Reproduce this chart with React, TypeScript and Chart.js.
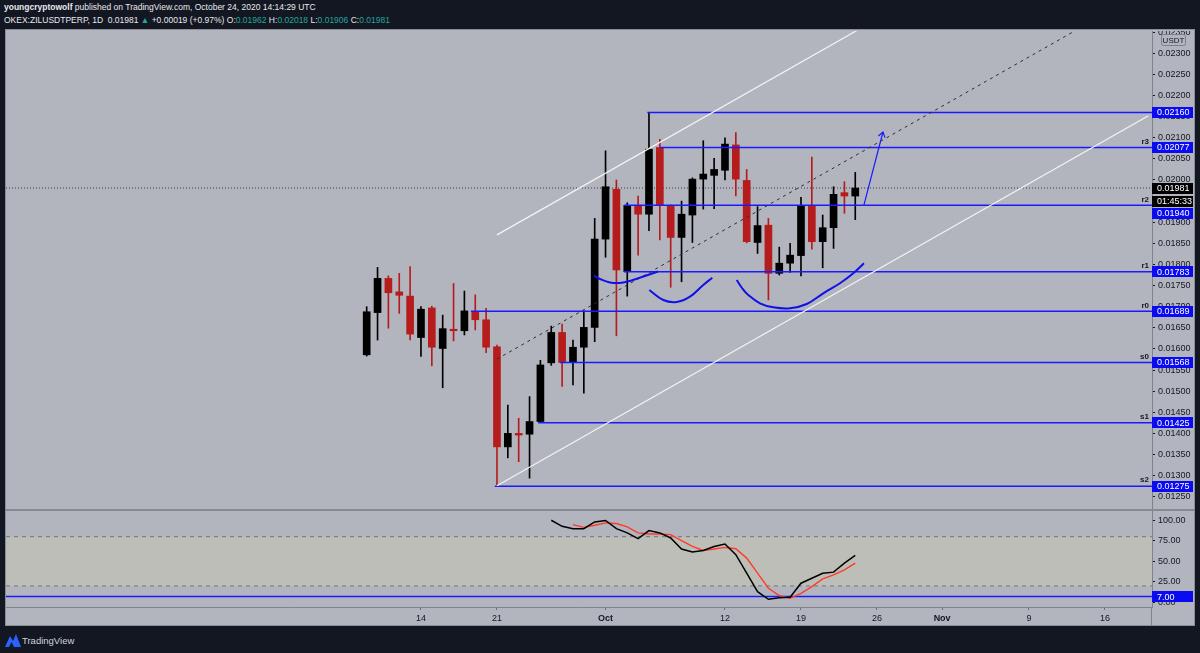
import React, { useEffect, useRef } from "react";
import { Chart, registerables } from "chart.js";
Chart.register(...registerables);

// ---- data (day index: 0 = 14 Sep 2020) ----
const candleDays = [-5, -4, -3, -2, -1, 0, 1, 2, 3, 4, 5, 6, 7, 8, 9, 10, 11, 12, 13, 14, 15, 16, 17, 18, 19, 20, 21, 22, 23, 24, 25, 26, 27, 28, 29, 30, 31, 32, 33, 34, 35, 36, 37, 38, 39, 40];
const openPrices = [0.01586, 0.01686, 0.01767, 0.01735, 0.01725, 0.01627, 0.01697, 0.01601, 0.01646, 0.01643, 0.01688, 0.01669, 0.01605, 0.01368, 0.014, 0.01398, 0.01428, 0.01567, 0.01639, 0.01569, 0.01604, 0.01651, 0.0186, 0.01978, 0.01783, 0.0194, 0.01919, 0.02077, 0.0194, 0.01864, 0.01917, 0.02002, 0.02011, 0.02023, 0.02083, 0.01999, 0.01852, 0.01893, 0.01779, 0.01803, 0.01821, 0.01939, 0.01854, 0.01887, 0.0197, 0.01962];
const highPrices = [0.017, 0.01793, 0.01773, 0.01779, 0.01795, 0.017, 0.01701, 0.0168, 0.01755, 0.01737, 0.01728, 0.01696, 0.01609, 0.01467, 0.01436, 0.01487, 0.01573, 0.01654, 0.01659, 0.01621, 0.0169, 0.01909, 0.02069, 0.02, 0.01946, 0.01962, 0.0216, 0.02096, 0.01941, 0.0195, 0.02005, 0.02093, 0.02051, 0.021, 0.02112, 0.02025, 0.01937, 0.01909, 0.01841, 0.0185, 0.01959, 0.02054, 0.01917, 0.01984, 0.01996, 0.02018];
const lowPrices = [0.01583, 0.01621, 0.01649, 0.01684, 0.01621, 0.01582, 0.0156, 0.01508, 0.01619, 0.01633, 0.01645, 0.01591, 0.01278, 0.01342, 0.01333, 0.01294, 0.01426, 0.01561, 0.01511, 0.01515, 0.01495, 0.01617, 0.01817, 0.01631, 0.01725, 0.01822, 0.0188, 0.01858, 0.01746, 0.01759, 0.01852, 0.01931, 0.01932, 0.02, 0.01962, 0.01851, 0.01826, 0.01716, 0.01775, 0.01781, 0.01773, 0.01836, 0.01792, 0.01838, 0.01921, 0.01906];
const closePrices = [0.01688, 0.01767, 0.01733, 0.01727, 0.01635, 0.01694, 0.01604, 0.01648, 0.01643, 0.0169, 0.01669, 0.01604, 0.01368, 0.014, 0.01396, 0.01428, 0.01562, 0.01639, 0.01568, 0.01604, 0.01651, 0.0186, 0.01984, 0.01787, 0.0194, 0.01919, 0.02073, 0.01941, 0.01864, 0.01919, 0.02002, 0.02014, 0.02025, 0.02085, 0.02002, 0.01854, 0.01892, 0.01779, 0.01803, 0.01822, 0.01939, 0.01854, 0.01887, 0.01966, 0.01962, 0.01981];

const levelValues = [0.0216, 0.02077, 0.0194, 0.01783, 0.01689, 0.01568, 0.01425, 0.01275];
const levelNames = ["", "r3", "r2", "r1", "r0", "s0", "s1", "s2"];
const levelStartDays = [20.85, 22, 18.7, 18.7, 4.6, 12.8, 10.8, 6.8];

const channelUpper = [{ x: 7, y: 0.0187 }, { x: 67, y: 0.02746 }];
const channelMiddle = [{ x: 7, y: 0.01576 }, { x: 67, y: 0.02452 }];
const channelLower = [{ x: 7, y: 0.01276 }, { x: 67, y: 0.02152 }];

const arcLeft = [{ x: 15.93, y: 0.017734 }, { x: 16.49, y: 0.017655 }, { x: 17.41, y: 0.017573 }, { x: 18.33, y: 0.017561 }, { x: 19.25, y: 0.017608 }, { x: 20.63, y: 0.017727 }, { x: 21.83, y: 0.017833 }];
const arcMiddle = [{ x: 21.03, y: 0.017395 }, { x: 22.32, y: 0.017158 }, { x: 23.55, y: 0.017111 }, { x: 24.78, y: 0.017236 }, { x: 26.0, y: 0.017513 }, { x: 26.83, y: 0.017686 }];
const arcRight = [{ x: 29.08, y: 0.017632 }, { x: 29.57, y: 0.017442 }, { x: 30.15, y: 0.017277 }, { x: 31.22, y: 0.01708 }, { x: 32.45, y: 0.016985 }, { x: 33.99, y: 0.016962 }, { x: 35.53, y: 0.017064 }, { x: 37.05, y: 0.017317 }, { x: 38.59, y: 0.017554 }, { x: 39.82, y: 0.01779 }, { x: 40.8, y: 0.018027 }];
const arrowPath = [{ x: 40.8, y: 0.01941 }, { x: 42.55, y: 0.021136 }];

const kDays = [12, 13, 14, 15, 16, 17, 18, 19, 20, 21, 22, 23, 24, 25, 26, 27, 28, 29, 30, 31, 32, 33, 34, 35, 36, 37, 38, 39, 40];
const kValues = [100, 92.6, 89.8, 89.8, 98.0, 99.8, 89.8, 84.6, 77.6, 87.4, 84.6, 78.4, 65.0, 61.3, 63.2, 68.1, 71.1, 58.0, 35.5, 13.0, 3.7, 5.6, 6.1, 23.3, 29.4, 35.5, 36.8, 47.8, 57.1];
const dDays = [14, 15, 16, 17, 18, 19, 20, 21, 22, 23, 24, 25, 26, 27, 28, 29, 30, 31, 32, 33, 34, 35, 36, 37, 38, 39, 40];
const dValues = [94.7, 91.4, 93.9, 96.8, 96.0, 91.9, 84.6, 83.3, 83.3, 82.5, 75.1, 68.1, 63.2, 65.0, 66.9, 65.3, 53.9, 35.5, 17.2, 8.1, 4.9, 11.0, 19.1, 28.6, 33.5, 39.6, 47.8];

const priceTicks = [0.0125, 0.013, 0.0135, 0.014, 0.0145, 0.015, 0.0155, 0.016, 0.0165, 0.017, 0.0175, 0.018, 0.0185, 0.019, 0.0195, 0.02, 0.0205, 0.021, 0.0215, 0.022, 0.0225, 0.023, 0.0235];
const stochTicks = [0, 25, 50, 75, 100];
const timeTickDays = [0, 7, 17, 28, 35, 42, 48, 56, 63];
const timeTickLabels = ["14", "21", "Oct", "12", "19", "26", "Nov", "9", "16"];
const boldTimeLabels = ["Oct", "Nov"];

const stochUpper = 80;
const stochLower = 20;
const stochLevel = 7;
const countdownText = "01:45:33";

// ---- view ----
const X_MIN = -38.22;
const X_MAX = 67.33;
const P_MIN = 0.012209;
const P_MAX = 0.023528;
const S_MIN = -5.7;
const S_MAX = 111.3;

const FONT = "'Liberation Sans', Arial, sans-serif";
const AXIS_TEXT = "#131722";
const UP = "#000000";
const DOWN = "#b71c1c";
const BLUE = "#1a1aff";
const BOX_BLUE = "#0b0bf2";

function fixRightAxis(scale: any) {
  scale.width = 43;
  scale.paddingTop = 0;
  scale.paddingBottom = 0;
}

export default function App() {
  const mainRef = useRef<HTMLCanvasElement>(null);
  const stochRef = useRef<HTMLCanvasElement>(null);

  useEffect(() => {
    document.body.style.margin = "0";
    Chart.defaults.font.family = FONT;

    const colors = candleDays.map((_, i) => (closePrices[i] >= openPrices[i] ? UP : DOWN));
    const bodyData = candleDays.map((d, i) => ({ x: d, y: [Math.min(openPrices[i], closePrices[i]), Math.max(openPrices[i], closePrices[i])] }));
    const wickData = candleDays.map((d, i) => ({ x: d, y: [lowPrices[i], highPrices[i]] }));
    const lastClose = closePrices[closePrices.length - 1];

    const levelSets = levelValues.map((v, i) => ({
      type: "line",
      data: [{ x: levelStartDays[i], y: v }, { x: X_MAX, y: v }],
      borderColor: BLUE,
      borderWidth: 1.5,
      pointRadius: 0,
      order: 3,
    }));

    const curve = (pts: any[]) => ({
      type: "line",
      data: pts,
      borderColor: "#1010e8",
      borderWidth: 2,
      pointRadius: 0,
      tension: 0.4,
      order: 1,
    });

    const labelPlugin = {
      id: "tvLabels",
      afterDraw(chart: any) {
        const ctx = chart.ctx;
        const ys = chart.scales.y;
        const xs = chart.scales.x;
        const right = chart.chartArea.right;
        const boxH = 11;
        const boxW = 41;
        ctx.save();
        // r/s names
        ctx.font = `bold 8px ${FONT}`;
        ctx.fillStyle = AXIS_TEXT;
        ctx.textAlign = "right";
        ctx.textBaseline = "middle";
        levelValues.forEach((v, i) => {
          if (!levelNames[i]) return;
          ctx.fillText(levelNames[i], right - 3, ys.getPixelForValue(v) - 6);
        });
        // arrowhead
        const a0 = { x: xs.getPixelForValue(arrowPath[0].x), y: ys.getPixelForValue(arrowPath[0].y) };
        const a1 = { x: xs.getPixelForValue(arrowPath[1].x), y: ys.getPixelForValue(arrowPath[1].y) };
        const ang = Math.atan2(a1.y - a0.y, a1.x - a0.x);
        ctx.strokeStyle = BLUE;
        ctx.lineWidth = 1.2;
        ctx.beginPath();
        ctx.moveTo(a1.x - 6 * Math.cos(ang - 0.6), a1.y - 6 * Math.sin(ang - 0.6));
        ctx.lineTo(a1.x, a1.y);
        ctx.lineTo(a1.x - 6 * Math.cos(ang + 0.6), a1.y - 6 * Math.sin(ang + 0.6));
        ctx.stroke();
        // boxes on price axis
        const boxes: any[] = levelValues.map((v) => ({ y: ys.getPixelForValue(v), text: v.toFixed(5), bg: BOX_BLUE }));
        const cy = ys.getPixelForValue(lastClose);
        boxes.push({ y: cy, text: lastClose.toFixed(5), bg: "#000000" });
        boxes.push({ y: cy + 13, text: countdownText, bg: "#000000" });
        boxes.sort((a, b) => a.y - b.y);
        for (let i = 1; i < boxes.length; i++) {
          if (boxes[i].y < boxes[i - 1].y + 12) boxes[i].y = boxes[i - 1].y + 12;
        }
        ctx.font = `9px ${FONT}`;
        ctx.textAlign = "left";
        boxes.forEach((b) => {
          ctx.fillStyle = b.bg;
          ctx.fillRect(right, Math.round(b.y - boxH / 2), boxW, boxH);
          ctx.fillStyle = "#ffffff";
          ctx.fillText(b.text, right + 5, b.y + 0.5);
        });
        // USDT tag
        ctx.fillStyle = "#b2b5be";
        ctx.strokeStyle = "#7d8088";
        ctx.lineWidth = 1;
        const ux = right + 9.5, uy = 3.5, uw = 24, uh = 11;
        ctx.beginPath();
        ctx.roundRect(ux, uy, uw, uh, 2);
        ctx.fill();
        ctx.stroke();
        ctx.fillStyle = AXIS_TEXT;
        ctx.font = `8px ${FONT}`;
        ctx.textAlign = "center";
        ctx.fillText("USDT", ux + uw / 2, uy + uh / 2 + 0.5);
        ctx.restore();
      },
    };

    const main = new Chart(mainRef.current as HTMLCanvasElement, {
      type: "bar",
      data: {
        datasets: [
          {
            type: "line",
            data: [{ x: X_MIN, y: lastClose }, { x: X_MAX, y: lastClose }],
            borderColor: "#3a3d45",
            borderWidth: 1,
            borderDash: [1, 2],
            pointRadius: 0,
            order: 30,
          },
          { data: wickData, backgroundColor: colors, barThickness: 1, grouped: false, order: 21 },
          { data: bodyData, backgroundColor: colors, barThickness: 7, grouped: false, minBarLength: 1.5, order: 20 },
          ...levelSets,
          { type: "line", data: channelUpper, borderColor: "#f4f4f4", borderWidth: 1.2, pointRadius: 0, order: 2 },
          { type: "line", data: channelLower, borderColor: "#f4f4f4", borderWidth: 1.2, pointRadius: 0, order: 2 },
          { type: "line", data: channelMiddle, borderColor: "#2a2d35", borderWidth: 1, borderDash: [3, 4], pointRadius: 0, order: 2 },
          curve(arcLeft),
          curve(arcMiddle),
          curve(arcRight),
          { type: "line", data: arrowPath, borderColor: BLUE, borderWidth: 1.2, pointRadius: 0, order: 1 },
        ] as any,
      },
      options: {
        responsive: false,
        animation: false,
        events: [],
        layout: { padding: 0 },
        plugins: { legend: { display: false }, tooltip: { enabled: false } },
        scales: {
          x: { type: "linear", min: X_MIN, max: X_MAX, display: false, offset: false },
          y: {
            position: "right",
            min: P_MIN,
            max: P_MAX,
            afterBuildTicks: (s: any) => { s.ticks = priceTicks.map((v) => ({ value: v })); },
            afterFit: fixRightAxis,
            grid: { drawOnChartArea: false, drawTicks: true, tickLength: 3, color: AXIS_TEXT },
            border: { display: true, color: "#80838b" },
            ticks: { autoSkip: false, padding: 3, color: AXIS_TEXT, font: { size: 9 }, callback: (v: any) => Number(v).toFixed(5) },
          },
        },
      } as any,
      plugins: [labelPlugin],
    });

    const stochPlugin = {
      id: "stochLabels",
      afterDraw(chart: any) {
        const ctx = chart.ctx;
        const ys = chart.scales.y;
        const right = chart.chartArea.right;
        const y = ys.getPixelForValue(stochLevel);
        ctx.save();
        ctx.fillStyle = BOX_BLUE;
        ctx.fillRect(right, Math.round(y - 5.5), 41, 11);
        ctx.fillStyle = "#ffffff";
        ctx.font = `9px ${FONT}`;
        ctx.textBaseline = "middle";
        ctx.fillText(stochLevel.toFixed(2), right + 5, y + 0.5);
        ctx.restore();
      },
    };

    const stoch = new Chart(stochRef.current as HTMLCanvasElement, {
      type: "line",
      data: {
        datasets: [
          {
            data: [{ x: X_MIN, y: stochUpper }, { x: X_MAX, y: stochUpper }],
            borderColor: "#72757c",
            borderWidth: 1,
            borderDash: [4, 4],
            pointRadius: 0,
            fill: "+1",
            backgroundColor: "rgba(202,202,178,0.45)",
            order: 10,
          },
          {
            data: [{ x: X_MIN, y: stochLower }, { x: X_MAX, y: stochLower }],
            borderColor: "#72757c",
            borderWidth: 1,
            borderDash: [4, 4],
            pointRadius: 0,
            fill: false,
            order: 9,
          },
          {
            data: [{ x: X_MIN, y: stochLevel }, { x: X_MAX, y: stochLevel }],
            borderColor: BLUE,
            borderWidth: 1.5,
            pointRadius: 0,
            fill: false,
            order: 8,
          },
          {
            data: dDays.map((d, i) => ({ x: d, y: dValues[i] })),
            borderColor: "#ff3b2a",
            borderWidth: 1.4,
            pointRadius: 0,
            fill: false,
            order: 2,
          },
          {
            data: kDays.map((d, i) => ({ x: d, y: kValues[i] })),
            borderColor: "#000000",
            borderWidth: 1.5,
            pointRadius: 0,
            fill: false,
            order: 1,
          },
        ] as any,
      },
      options: {
        responsive: false,
        animation: false,
        events: [],
        layout: { padding: 0 },
        plugins: { legend: { display: false }, tooltip: { enabled: false } },
        scales: {
          x: {
            type: "linear",
            min: X_MIN,
            max: X_MAX,
            afterBuildTicks: (s: any) => { s.ticks = timeTickDays.map((v) => ({ value: v })); },
            afterFit: (s: any) => { s.height = 19; s.paddingLeft = 0; s.paddingRight = 0; },
            grid: { drawOnChartArea: false, drawTicks: true, tickLength: 3, color: "#6b6e76" },
            border: { display: true, color: "#80838b" },
            ticks: {
              autoSkip: false,
              maxRotation: 0,
              padding: 3,
              color: AXIS_TEXT,
              font: (c: any) => ({ size: 9, weight: c.tick && boldTimeLabels.includes(timeTickLabels[timeTickDays.indexOf(c.tick.value)]) ? "bold" : "normal" }),
              callback: (v: any) => { const i = timeTickDays.indexOf(Number(v)); return i >= 0 ? timeTickLabels[i] : ""; },
            },
          },
          y: {
            position: "right",
            min: S_MIN,
            max: S_MAX,
            afterBuildTicks: (s: any) => { s.ticks = stochTicks.map((v) => ({ value: v })); },
            afterFit: fixRightAxis,
            grid: { drawOnChartArea: false, drawTicks: true, tickLength: 3, color: AXIS_TEXT },
            border: { display: true, color: "#80838b" },
            ticks: { autoSkip: false, padding: 3, color: AXIS_TEXT, font: { size: 9 }, callback: (v: any) => Number(v).toFixed(2) },
          },
        },
      } as any,
      plugins: [stochPlugin],
    });

    return () => {
      main.destroy();
      stoch.destroy();
    };
  }, []);

  const teal = { color: "#26a69a" };
  return (
    <div style={{ position: "fixed", left: 0, top: 0, width: 1200, height: 653, background: "#131722", overflow: "hidden", fontFamily: FONT }}>
      <div style={{ position: "absolute", left: 4, top: 2, fontSize: 8.5, lineHeight: "11px", color: "#e8e9ec", whiteSpace: "nowrap" }}>
        <b>youngcryptowolf</b> published on TradingView.com, October 24, 2020 14:14:29 UTC
      </div>
      <div style={{ position: "absolute", left: 4, top: 15, fontSize: 8.5, lineHeight: "11px", color: "#e8e9ec", whiteSpace: "nowrap" }}>
        OKEX:ZILUSDTPERP, 1D&nbsp; 0.01981 <span style={teal}>▲</span> +0.00019 (+0.97%) O:<span style={teal}>0.01962</span> H:<span style={teal}>0.02018</span> L:<span style={teal}>0.01906</span> C:<span style={teal}>0.01981</span>
      </div>
      <div style={{ position: "absolute", left: 5, top: 29, width: 1190, height: 597, background: "#b2b5be", boxShadow: "inset 0 0 0 1px #8a8d95" }} />
      <canvas ref={mainRef} width={1189} height={478} style={{ position: "absolute", left: 6, top: 31, display: "block" }} />
      <div style={{ position: "absolute", left: 5, top: 509, width: 1190, height: 2, background: "#868991" }} />
      <canvas ref={stochRef} width={1189} height={115} style={{ position: "absolute", left: 6, top: 511, display: "block" }} />
      <div style={{ position: "absolute", left: 1151, top: 607, width: 1, height: 19, background: "#80838b" }} />
      <svg style={{ position: "absolute", left: 5, top: 633 }} width={16} height={14} viewBox="0 0 16 14">
        <polygon points="0,14 5,3 8,8 11,1 16,14" fill="#2962ff" />
        <polygon points="4,14 6.5,9 9,14" fill="#131722" />
      </svg>
      <div style={{ position: "absolute", left: 22, top: 635, fontSize: 9.5, color: "#d1d4dc", whiteSpace: "nowrap" }}>TradingView</div>
    </div>
  );
}
